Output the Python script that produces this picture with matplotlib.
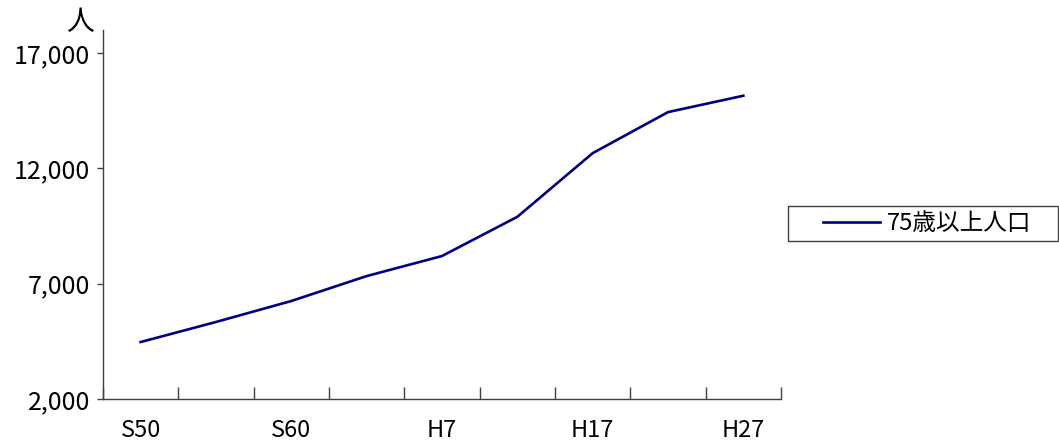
import matplotlib.pyplot as plt
from matplotlib.patches import Rectangle
from matplotlib.ticker import FuncFormatter

# data
years = ['S50', 'S55', 'S60', 'H2', 'H7', 'H12', 'H17', 'H22', 'H27']
pop75 = [4470, 5340, 6250, 7330, 8200, 9900, 12660, 14440, 15150]
yticks = [2000, 7000, 12000, 17000]

plt.rcParams['font.family'] = ['Noto Sans CJK JP', 'DejaVu Sans']

W, H = 1059, 441
fig = plt.figure(figsize=(W/100, H/100), dpi=100)
ax = fig.add_axes([103/W, 1-399/H, (781-103)/W, (399-30)/H])

xs = list(range(len(years)))
ax.plot(xs, pop75, color='#000080', lw=1.9, label='75歳以上人口')

ax.set_xlim(-0.5, len(years)-0.5)
ax.set_ylim(2000, 18000)

# category labels every other point, ticks at boundaries
ax.set_xticks([i + 0.5 for i in range(-1, len(years))])
ax.set_xticklabels([])
ax.tick_params(axis='x', direction='in', length=9, width=1, color='#404040')
for i, lab in enumerate(years):
    if i % 2 == 0:
        ax.text(i, -0.085, lab, transform=ax.get_xaxis_transform(),
                ha='center', va='center', fontsize=17)

ax.set_yticks(yticks)
ax.yaxis.set_major_formatter(FuncFormatter(lambda v, p: f'{int(v):,}'))
ax.tick_params(axis='y', direction='out', length=4, width=1, color='#404040',
               labelsize=18, pad=5)

for s in ['top', 'right']:
    ax.spines[s].set_visible(False)
for s in ['left', 'bottom']:
    ax.spines[s].set_color('#404040')
    ax.spines[s].set_linewidth(1)

fig.text(80/W, 1-22/H, '人', fontsize=20, ha='center', va='center')

# legend: frame drawn separately so it reaches the right edge
fig.patches.append(Rectangle((788/W, 1-241/H), 270/W, 35/H,
                             transform=fig.transFigure, fill=False,
                             edgecolor='#404040', lw=1))
fig.legend(loc='center left', bbox_to_anchor=(823/W, 1-223.5/H),
           frameon=False, fontsize=17, handlelength=2.4,
           handletextpad=0.3, borderpad=0, borderaxespad=0)

fig.savefig('out.png', dpi=100)
